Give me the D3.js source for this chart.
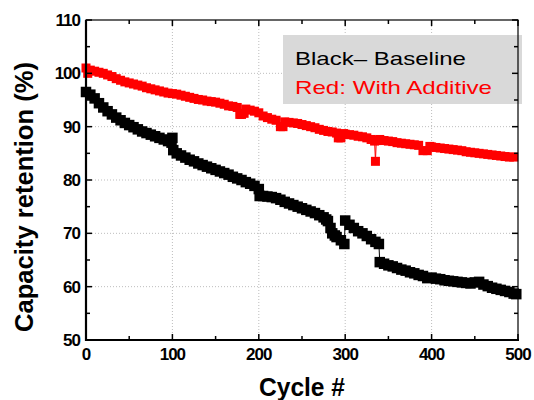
<!DOCTYPE html>
<html>
<head>
<meta charset="utf-8">
<script src="https://cdn.jsdelivr.net/npm/d3@7"></script>
<style>
  body { margin: 0; background: #fff; }
  svg { display: block; font-family: "Liberation Sans", Arial, sans-serif; }
</style>
</head>
<body>
<svg id="chart" width="534" height="400"></svg>
<script>
// cycle numbers and capacity retention
var baseCycles = [0,5,10,15,20,25,30,35,40,45,50,55,60,65,70,75,80,85,90,95,99,100,101,105,110,115,120,125,130,135,140,145,150,155,160,165,170,175,180,185,190,195,200,201,205,210,215,220,225,230,235,240,245,250,255,260,265,270,275,278,280,283,285,288,290,295,299,300,305,310,315,320,325,330,335,339,340,345,350,355,360,365,370,375,380,385,390,395,400,405,410,415,420,425,430,435,440,445,450,455,460,465,470,475,480,485,490,495,498];
var baseValues = [96.5,96.0,95.3,94.4,93.6,92.9,92.3,91.7,91.2,90.7,90.3,89.9,89.5,89.1,88.8,88.5,88.2,87.9,87.6,87.3,87.0,87.9,85.6,85.0,84.6,84.2,83.8,83.5,83.1,82.8,82.5,82.2,81.9,81.6,81.3,81.0,80.6,80.3,80.0,79.6,79.3,78.9,78.3,77.0,77.0,76.9,76.8,76.6,76.3,75.9,75.6,75.3,75.0,74.7,74.4,74.1,73.8,73.4,73.0,72.6,72.3,71.0,70.0,69.6,69.3,68.7,68.0,72.4,71.6,71.0,70.4,70.0,69.5,68.9,68.4,68.0,64.6,64.3,64.0,63.8,63.5,63.2,63.0,62.7,62.5,62.2,62.0,61.6,61.7,61.5,61.4,61.2,61.1,61.0,60.9,60.8,60.7,60.6,60.8,60.9,60.4,60.1,59.8,59.6,59.4,59.2,59.0,58.7,58.6];

var addCycles = [0,2,5,10,15,20,25,30,35,40,45,50,55,60,65,70,75,80,85,90,95,100,105,110,115,120,125,130,135,140,145,150,155,160,165,170,175,178,180,183,185,190,195,200,205,210,215,220,225,228,230,235,240,245,250,255,260,265,270,275,280,285,290,292,295,298,300,305,310,315,320,325,330,334,335,336,340,345,350,355,360,365,370,375,380,385,390,395,398,400,405,410,415,420,425,430,435,440,445,450,455,460,465,470,475,480,485,490,495];
var addValues = [101.0,100.0,100.6,100.4,100.2,100.0,99.7,99.4,99.0,98.7,98.4,98.2,98.0,97.8,97.6,97.3,97.1,96.9,96.7,96.5,96.3,96.2,96.1,95.9,95.7,95.5,95.3,95.1,95.0,94.8,94.7,94.6,94.4,94.2,93.9,93.8,93.6,92.3,92.3,92.5,93.3,93.1,92.9,92.6,92.0,91.7,91.4,91.2,90.0,90.0,90.9,90.8,90.7,90.6,90.4,90.2,90.0,89.8,89.5,89.3,89.1,89.0,88.8,87.9,87.9,88.7,88.6,88.5,88.4,88.2,88.1,87.9,87.6,87.3,83.5,87.4,87.6,87.4,87.3,87.2,87.0,86.9,86.8,86.7,86.6,86.5,85.5,85.5,86.3,86.2,86.1,86.0,85.9,85.8,85.7,85.6,85.5,85.3,85.2,85.1,85.0,84.9,84.8,84.7,84.6,84.5,84.4,84.3,84.3];

var xTicks = [0,100,200,300,400,500];
var yTicks = [50,60,70,80,90,100,110];
var legendLines = ["Black\u2013 Baseline", "Red: With Additive"];

var baseline = baseCycles.map((c,i) => ({x: c, y: baseValues[i]}));
var additive = addCycles.map((c,i) => ({x: c, y: addValues[i]}));

var margin = {top: 20, right: 16, bottom: 60, left: 86},
    width = 534 - margin.left - margin.right,
    height = 400 - margin.top - margin.bottom;

var svg = d3.select("#chart");
var chart = svg.append("g")
    .attr("transform", "translate(" + margin.left + "," + margin.top + ")");

var xScale = d3.scaleLinear().domain([0,500]).range([0,width]);
var yScale = d3.scaleLinear().domain([50,110]).range([height,0]);

// dotted grid
chart.append("g").selectAll("line")
    .data(xTicks.slice(1,-1)).enter().append("line")
    .attr("x1", d => xScale(d)).attr("x2", d => xScale(d))
    .attr("y1", 0).attr("y2", height)
    .attr("stroke", "#bdbdbd").attr("stroke-dasharray", "1,2");
chart.append("g").selectAll("line")
    .data(yTicks.slice(1,-1)).enter().append("line")
    .attr("y1", d => yScale(d)).attr("y2", d => yScale(d))
    .attr("x1", 0).attr("x2", width)
    .attr("stroke", "#bdbdbd").attr("stroke-dasharray", "1,2");

// legend box sits under the frame
var legend = chart.append("g").attr("transform", "translate(197,15)");
legend.append("rect")
    .attr("width", 239).attr("height", 69)
    .attr("fill", "#d9d9d9");
legend.selectAll("text")
    .data(legendLines).enter().append("text")
    .attr("x", 12).attr("y", (d,i) => 30 + i * 29)
    .attr("font-size", 19)
    .attr("fill", (d,i) => i == 0 ? "#000" : "#ff0000")
    .attr("textLength", (d,i) => i == 0 ? 171 : 197)
    .attr("lengthAdjust", "spacingAndGlyphs")
    .text(d => d);

function drawSeries(data, color, size) {
    var line = d3.line().x(d => xScale(d.x)).y(d => yScale(d.y));
    chart.append("path")
        .datum(data)
        .attr("d", line)
        .attr("fill", "none")
        .attr("stroke", color)
        .attr("stroke-width", 1);
    chart.append("g").selectAll("rect")
        .data(data).enter().append("rect")
        .attr("x", d => xScale(d.x) - size / 2)
        .attr("y", d => yScale(d.y) - size / 2)
        .attr("width", size).attr("height", size)
        .attr("fill", color);
}

drawSeries(baseline, "#000000", 10.5);
drawSeries(additive, "#ff0000", 9);

// frame with inward ticks
var xMinor = d3.range(50, 500, 100);
var yMinor = d3.range(55, 110, 10);

function tickLines(vals, len, horizontal, side) {
    chart.append("g").selectAll("line")
        .data(vals).enter().append("line")
        .attr("x1", d => horizontal ? xScale(d) : (side == "l" ? 0 : width))
        .attr("x2", d => horizontal ? xScale(d) : (side == "l" ? len : width - len))
        .attr("y1", d => horizontal ? (side == "b" ? height : 0) : yScale(d))
        .attr("y2", d => horizontal ? (side == "b" ? height - len : len) : yScale(d))
        .attr("stroke", "#000").attr("stroke-width", 1.5);
}
tickLines(xTicks, 6, true, "b");
tickLines(xMinor, 4, true, "b");
tickLines(xTicks, 6, true, "t");
tickLines(xMinor, 4, true, "t");
tickLines(yTicks, 6, false, "l");
tickLines(yMinor, 4, false, "l");
tickLines(yTicks, 6, false, "r");
tickLines(yMinor, 4, false, "r");

chart.append("rect")
    .attr("width", width).attr("height", height)
    .attr("fill", "none").attr("stroke", "#000").attr("stroke-width", 1.2);
chart.append("line")
    .attr("x1", 0).attr("x2", 0).attr("y1", 0).attr("y2", height + 1)
    .attr("stroke", "#000").attr("stroke-width", 2.2);
chart.append("line")
    .attr("x1", -1).attr("x2", width + 1).attr("y1", height).attr("y2", height)
    .attr("stroke", "#000").attr("stroke-width", 2.2);

// tick labels
chart.append("g").selectAll("text")
    .data(xTicks).enter().append("text")
    .attr("x", d => xScale(d)).attr("y", height + 20)
    .attr("text-anchor", "middle")
    .attr("font-size", 17).attr("font-weight", "bold")
    .attr("letter-spacing", -1)
    .text(d => d);
chart.append("g").selectAll("text")
    .data(yTicks).enter().append("text")
    .attr("x", -6).attr("y", d => yScale(d) + 6)
    .attr("text-anchor", "end")
    .attr("font-size", 17).attr("font-weight", "bold")
    .attr("letter-spacing", -1)
    .text(d => d);

// axis titles
chart.append("text")
    .attr("x", width / 2).attr("y", height + 56)
    .attr("text-anchor", "middle")
    .attr("font-size", 25).attr("font-weight", "bold")
    .attr("textLength", 86).attr("lengthAdjust", "spacingAndGlyphs")
    .text("Cycle #");
chart.append("text")
    .attr("transform", "translate(-53," + 177 + ") rotate(-90)")
    .attr("text-anchor", "middle")
    .attr("font-size", 25).attr("font-weight", "bold")
    .attr("textLength", 270).attr("lengthAdjust", "spacingAndGlyphs")
    .text("Capacity retention (%)");
</script>
</body>
</html>
